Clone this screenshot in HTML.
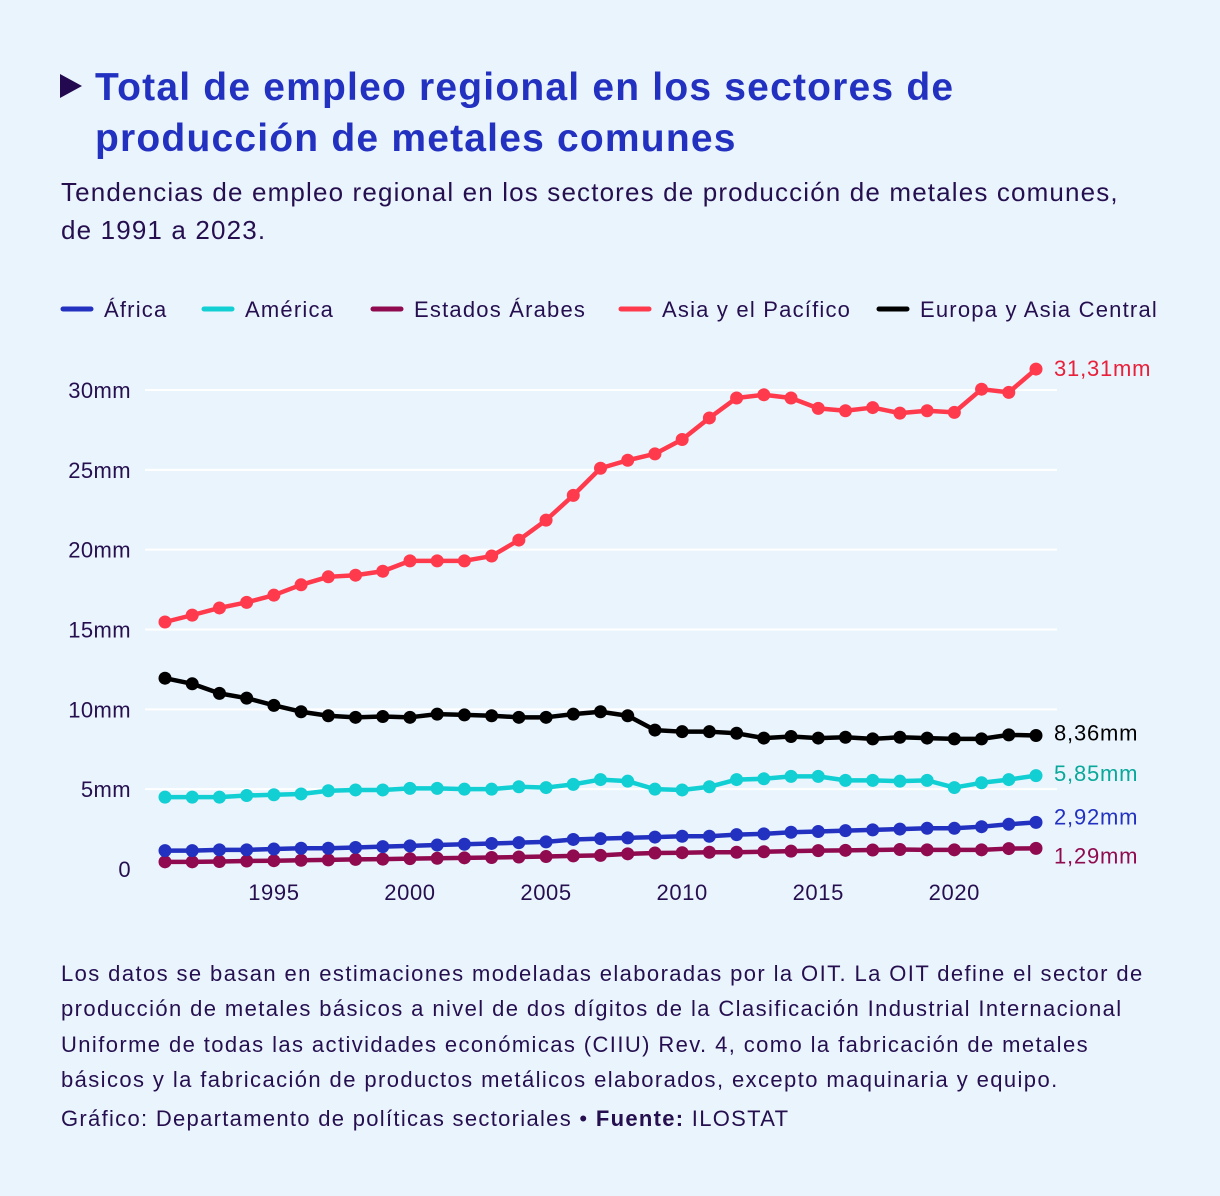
<!DOCTYPE html>
<html><head><meta charset="utf-8">
<style>
body{margin:0;background:#eaf4fd;}
#wrap{position:relative;width:1220px;height:1196px;background:#eaf4fd;font-family:"Liberation Sans","DejaVu Sans",sans-serif;color:#250f4f;overflow:hidden}
.title{position:absolute;left:95px;top:62px;font-size:39px;letter-spacing:1.2px;font-weight:bold;color:#2231c0;line-height:51px;width:1000px}
.tri{position:absolute;left:60px;top:74px;width:0;height:0;border-top:12px solid transparent;border-bottom:12px solid transparent;border-left:22px solid #23094f}
.sub{position:absolute;left:61px;top:173px;font-size:26px;letter-spacing:1.15px;line-height:38px;width:1130px}
.foot{position:absolute;left:61px;top:956px;font-size:22px;letter-spacing:1.4px;line-height:35.3px;width:1100px}
.src{position:absolute;left:61px;top:1106px;font-size:22px;letter-spacing:1.3px}
</style></head><body>
<div id="wrap">
<div class="tri"></div>
<div class="title">Total de empleo regional en los sectores de producción de metales comunes</div>
<div class="sub">Tendencias de empleo regional en los sectores de producción de metales comunes,<br>de 1991 a 2023.</div>
<svg id="chart" width="1220" height="1196" style="position:absolute;left:0;top:0"></svg>
<div class="foot">Los datos se basan en estimaciones modeladas elaboradas por la OIT. La OIT define el sector de producción de metales básicos a nivel de dos dígitos de la Clasificación Industrial Internacional Uniforme de todas las actividades económicas (CIIU) Rev. 4, como la fabricación de metales básicos y la fabricación de productos metálicos elaborados, excepto maquinaria y equipo.</div>
<div class="src">Gráfico: Departamento de políticas sectoriales • <b>Fuente:</b> ILOSTAT</div>
</div>
<script>
const years=[];for(let y=1991;y<=2023;y++)years.push(y);
const africa=[1.15,1.15,1.2,1.2,1.25,1.3,1.3,1.35,1.4,1.45,1.5,1.55,1.6,1.65,1.7,1.85,1.9,1.95,2.0,2.05,2.05,2.15,2.2,2.3,2.35,2.4,2.45,2.5,2.55,2.55,2.65,2.8,2.92];
const america=[4.5,4.5,4.5,4.6,4.65,4.7,4.9,4.95,4.95,5.05,5.05,5.0,5.0,5.15,5.1,5.3,5.6,5.5,5.0,4.95,5.15,5.6,5.65,5.8,5.8,5.55,5.55,5.5,5.55,5.1,5.4,5.6,5.85];
const arab=[0.45,0.45,0.47,0.5,0.52,0.55,0.57,0.6,0.62,0.65,0.67,0.7,0.72,0.75,0.78,0.82,0.85,0.95,1.0,1.02,1.05,1.05,1.08,1.12,1.15,1.17,1.19,1.22,1.2,1.2,1.2,1.28,1.29];
const asia=[15.47,15.9,16.35,16.7,17.15,17.8,18.3,18.4,18.65,19.3,19.3,19.3,19.6,20.6,21.85,23.4,25.1,25.6,26.0,26.9,28.25,29.5,29.7,29.5,28.85,28.7,28.9,28.55,28.7,28.6,30.05,29.85,31.31];
const europe=[11.95,11.6,11.0,10.7,10.25,9.85,9.6,9.5,9.55,9.5,9.7,9.65,9.6,9.5,9.5,9.7,9.85,9.6,8.7,8.6,8.6,8.5,8.2,8.3,8.2,8.25,8.15,8.25,8.2,8.15,8.15,8.4,8.36];
const yTicks=[0,5,10,15,20,25,30];
const xTicks=[1995,2000,2005,2010,2015,2020];
const seriesNames=["África","América","Estados Árabes","Asia y el Pacífico","Europa y Asia Central"];
const seriesKeys=["africa","america","arab","asia","europe"];
const endLabels=["2,92mm","5,85mm","1,29mm","31,31mm","8,36mm"];

const colors=["#2231c0","#11cfd3","#8f0a4f","#ff3a4c","#000000"];
const labelColors=["#2231c0","#0aa89b","#8f0a4f","#e8203a","#000000"];
const labelNudge=[-5,-1.5,8,0,-2];
const dataArr=[africa,america,arab,asia,europe];
const NS="http://www.w3.org/2000/svg";
const svg=document.getElementById('chart');
const x=y=>165+(y-1991)*(1036-165)/32;
const yS=v=>869-v*(869-390)/30;
const FONT='Liberation Sans, sans-serif';
function mk(t,a){const e=document.createElementNS(NS,t);for(const k in a)e.setAttribute(k,a[k]);svg.appendChild(e);return e;}
yTicks.forEach(t=>{
 if(t>0){const g=mk('line',{x1:145,x2:1057,y1:yS(t),y2:yS(t),stroke:'#ffffff','stroke-width':2});
 
 }
 const l=mk('text',{x:131,y:yS(t)+8,'text-anchor':'end','font-size':22,'letter-spacing':0.4,fill:'#250f4f','font-family':FONT});
 l.textContent=t===0?'0':t+'mm';
 
 
});
xTicks.forEach(t=>{
 const l=mk('text',{x:x(t),y:900,'text-anchor':'middle','font-size':22,'letter-spacing':0.6,fill:'#250f4f','font-family':FONT});
 l.textContent=t;
 
 
});
const legX=[61,202,371,619,877];
seriesNames.forEach((n,i)=>{
 const ln=mk('line',{x1:legX[i]+2,x2:legX[i]+30,y1:309,y2:309,stroke:colors[i],'stroke-width':5,'stroke-linecap':'round'});
 
 
 const t=mk('text',{x:legX[i]+43,y:317,'font-size':22,'letter-spacing':1.2,fill:'#250f4f','font-family':FONT});
 t.textContent=n;
 
 
});
const order=[2,0,1,4,3];
order.forEach(i=>{
 const d=dataArr[i];
 const p=mk('polyline',{points:d.map((v,j)=>x(years[j])+','+yS(v)).join(' '),fill:'none',stroke:colors[i],'stroke-width':4.5,'stroke-linejoin':'round'});
 
 
 d.forEach((v,j)=>{
  const c=mk('circle',{cx:x(years[j]),cy:yS(v),r:6.5,fill:colors[i]});
  
  
 });
 const t=mk('text',{x:1054,y:yS(d[d.length-1])+labelNudge[i]+7,'font-size':22,'letter-spacing':0.8,fill:labelColors[i],'font-family':FONT});
 t.textContent=endLabels[i];
 
 
});
</script>
</body></html>
